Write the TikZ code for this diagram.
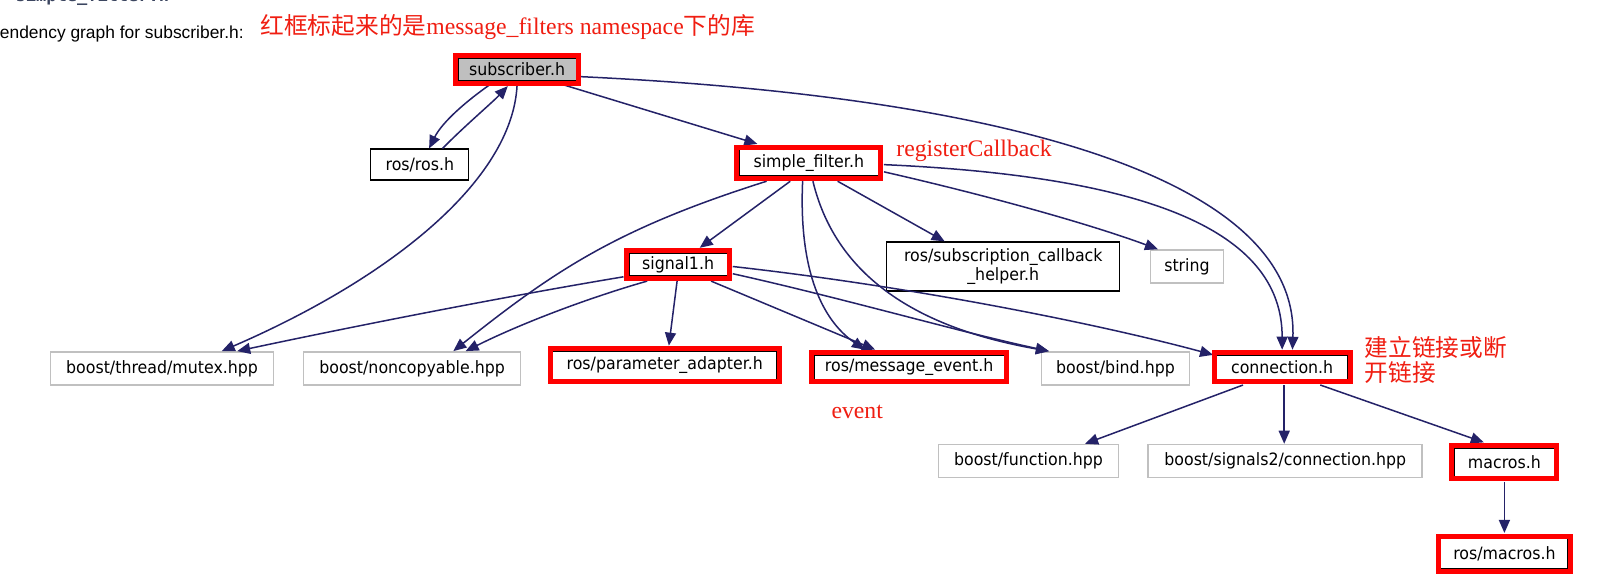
\documentclass[tikz,border=0pt]{standalone}
\usepackage{fontspec}
\usetikzlibrary{arrows.meta,calc}
\setmainfont{DejaVu Sans}
\newfontfamily\nodefont[FakeStretch=0.93]{DejaVu Sans}
\newfontfamily\annfont{Liberation Serif}
\newfontfamily\cjk{Noto Sans CJK SC}
\newfontfamily\hdrfont{Liberation Sans}
\newfontfamily\monob{DejaVu Sans Mono}
\definecolor{edgeblue}{RGB}{36,34,104}
\definecolor{boxgray}{RGB}{192,192,192}
\definecolor{fillgray}{RGB}{191,191,191}
\definecolor{framered}{RGB}{255,0,0}
\definecolor{annred}{RGB}{240,30,18}
\definecolor{slate}{RGB}{60,70,96}
\tikzset{
  nbase/.style={inner sep=0pt, align=center, font=\nodefont\fontsize{17}{20}\selectfont},
  gbox/.style={nbase, draw=boxgray, line width=1.5pt, fill=white},
  bbox/.style={nbase, draw=black, line width=1.3pt, fill=white},
  hbox/.style={nbase, draw=black, line width=1pt, fill=white},
  redframe/.style={draw=framered, line width=5pt},
  edge/.style={draw=edgeblue, line width=1.5pt, -{Triangle[length=13pt,width=11pt]}},
  ann/.style={text=annred, inner sep=0pt, anchor=west, font=\fontsize{23.7}{27}\selectfont},
}
\begin{document}
\begin{tikzpicture}[x=1.029pt,y=-1.029pt]
\clip (0,0) rectangle (1568.5,570.4);
\fill[white] (0,0) rectangle (1568.5,570.4);

% header texts
\node[inner sep=0pt, anchor=base west, text=slate, font=\monob\bfseries\fontsize{17}{20}\selectfont] (cut) at (15,1) {simple\_filter.h};
\node[inner sep=0pt, anchor=east, font=\hdrfont\fontsize{17.4}{20}\selectfont] (hdr) at (237,33) {endency graph for subscriber.h:};
\node[ann] (t1) at (253,26) {{\cjk 红框标起来的是}{\annfont message\_filters namespace}{\cjk 下的库}};
\node[ann] (t2) at (871,147) {\annfont registerCallback};
\node[ann, anchor=center] (t3) at (833,400) {\annfont event};
\node[ann] (t4) at (1326,338) {\cjk 建立链接或断};
\node[ann] (t5) at (1326,362) {\cjk 开链接};

% nodes
\node[hbox, fill=fillgray, minimum width=118pt, minimum height=22pt] (sub) at (502.5,67.5) {subscriber.h};
\node[bbox, minimum width=98pt, minimum height=31pt] (ros) at (408,160) {ros/ros.h};
\node[hbox, minimum width=139pt, minimum height=26pt] (sf) at (786,158) {simple\_filter.h};
\node[hbox, minimum width=98pt, minimum height=22pt] (sig) at (659,257) {signal1.h};
\node[bbox, minimum width=233pt, minimum height=49pt] (sch) at (975,259) {ros/subscription\_callback\\[-1pt]\_helper.h};
\node[gbox, minimum width=73pt, minimum height=33pt] (str) at (1153.5,259) {string};
\node[gbox, minimum width=223pt, minimum height=33pt] (mutex) at (157.5,358) {boost/thread/mutex.hpp};
\node[gbox, minimum width=217pt, minimum height=33pt] (nonc) at (400.5,358) {boost/noncopyable.hpp};
\node[hbox, minimum width=224pt, minimum height=28pt] (pa) at (646,355) {ros/parameter\_adapter.h};
\node[hbox, minimum width=190pt, minimum height=24pt] (me) at (883.5,357) {ros/message\_event.h};
\node[gbox, minimum width=148pt, minimum height=33pt] (bind) at (1084,358) {boost/bind.hpp};
\node[hbox, minimum width=131pt, minimum height=24pt] (conn) at (1246,357) {connection.h};
\node[gbox, minimum width=180pt, minimum height=33pt] (func) at (999.5,448) {boost/function.hpp};
\node[gbox, minimum width=274pt, minimum height=33pt] (sig2) at (1249,448) {boost/signals2/connection.hpp};
\node[hbox, minimum width=100pt, minimum height=28pt] (mac) at (1462,449) {macros.h};
\node[hbox, minimum width=127pt, minimum height=30pt] (rmac) at (1462,538) {ros/macros.h};

% edges
\draw[edge] ($(sub.south)+(-27,4)$) .. controls (455,97) and (430,118) .. ($(ros.north)+(9,0)$);
\draw[edge] ($(ros.north)+(22,0)$) .. controls (452,122) and (478,100) .. ($(sub.south)+(-9,5)$);
\draw[edge] ($(sub.south)+(0,4)$) .. controls (498,175) and (380,270) .. ($(mutex.north)+(58,0)$);
\draw[edge] ($(sub.south east)+(-12,4)$) -- ($(sf.north)+(-50,-5)$);
\draw[edge] ($(sub.east)+(4,7)$) .. controls (1000,95) and (1262,180) .. ($(conn.north)+(10,-5)$);
\draw[edge] ($(sf.south)+(-18,5)$) -- ($(sig.north)+(21,-5)$);
\draw[edge] ($(sf.south west)+(27,5)$) .. controls (600,222) and (540,262) .. ($(nonc.north)+(40,0)$);
\draw[edge] ($(sf.south)+(-6,5)$) .. controls (776,265) and (800,312) .. ($(me.north)+(-43,-5)$);
\draw[edge] ($(sf.south)+(4,5)$) .. controls (815,280) and (910,322) .. ($(bind.north west)+(8,0)$);
\draw[edge] ($(sf.south)+(28,5)$) -- ($(sch.north)+(-57,0)$);
\draw[edge] ($(sf.east)+(5,9)$) .. controls (960,190) and (1060,218) .. ($(str.north west)+(8,0)$);
\draw[edge] ($(sf.east)+(5,2)$) .. controls (1130,172) and (1246,230) .. ($(conn.north)+(0,-5)$);
\draw[edge] ($(sig.west)+(-5,12)$) .. controls (480,290) and (330,320) .. ($(mutex.north)+(73,0)$);
\draw[edge] ($(sig.south west)+(18,5)$) .. controls (570,290) and (505,315) .. ($(nonc.north)+(52,0)$);
\draw[edge] ($(sig.south)+(-1,5)$) -- ($(pa.north)+(4,-5)$);
\draw[edge] ($(sig.south)+(32,5)$) -- ($(me.north)+(-33,-5)$);
\draw[edge] ($(sig.east)+(5,9)$) .. controls (820,290) and (930,322) .. ($(bind.north west)+(8,0)$);
\draw[edge] ($(sig.east)+(5,2)$) .. controls (900,280) and (1080,318) .. ($(conn.north west)+(-3,0)$);
\draw[edge] ($(conn.south)+(-38,5)$) -- ($(func.north)+(55,0)$);
\draw[edge] ($(conn.south)+(2,5)$) -- ($(sig2.north)+(-1,0)$);
\draw[edge] ($(conn.south)+(37,5)$) -- ($(mac.north)+(-20,-5)$);
\draw[edge] ($(mac.south)+(0,5)$) -- ($(rmac.north)+(0,-5)$);

% red highlight frames
\foreach \n in {sub,sf,sig,pa,me,conn,mac,rmac}{
  \draw[redframe] ($(\n.north west)+(-2,-2)$) rectangle ($(\n.south east)+(2,2)$);
}
\end{tikzpicture}
\end{document}
